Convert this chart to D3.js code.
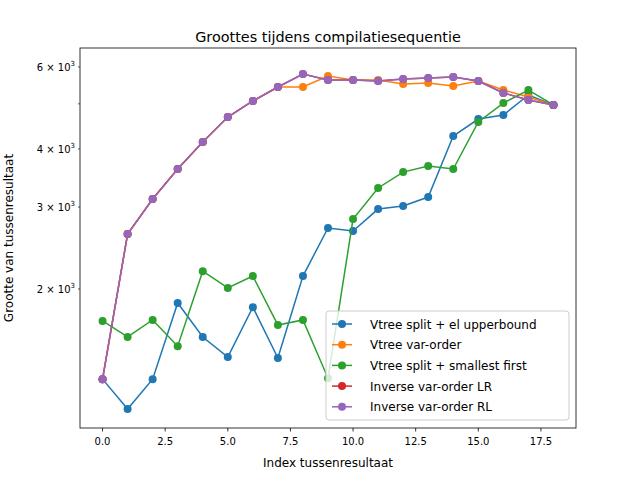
<!DOCTYPE html>
<html><head><meta charset="utf-8">
<script src="https://cdn.jsdelivr.net/npm/d3@7"></script>
<style>body{margin:0;background:#fff}text{font-family:"DejaVu Sans",sans-serif}</style>
</head><body>
<script>
var idx = d3.range(19);
var blue = [1280,1104,1280,1866,1577,1428,1828,1421,2132,2705,2664,2970,3015,3152,4264,4638,4731,5223,4972];
var orange = [1280,2625,3122,3622,4140,4684,5072,5434,5434,5738,5626,5626,5515,5543,5460,5598,5354,5171,4972];
var green = [1707,1577,1716,1507,2184,2010,2132,1673,1716,1286,2828,3297,3567,3676,3622,4570,5020,5354,4972];
var purple = [1280,2625,3122,3622,4140,4684,5072,5434,5795,5626,5626,5598,5654,5682,5710,5598,5276,5097,4972];
var red = purple.slice();
var names = ["Vtree split + el upperbound","Vtree var-order","Vtree split + smallest first","Inverse var-order LR","Inverse var-order RL"];
var colors = ["#1f77b4","#ff7f0e","#2ca02c","#d62728","#9467bd"];
var series = [blue, orange, green, red, purple];
var xTicks = [0,2.5,5,7.5,10,12.5,15,17.5];
var yMajor = [2000,3000,4000,6000];
var yMinor = [5000];

var L=80,R=576,T=48,B=428;
var svg = d3.select("body").append("svg").attr("width",640).attr("height",480);
var x = d3.scaleLinear().domain([-0.9,18.9]).range([L,R]);
var y = d3.scaleLog().domain([1005,6592]).range([B,T]);

svg.append("text").attr("x",(L+R)/2).attr("y",42).attr("text-anchor","middle")
	.attr("font-size",14.4).text("Groottes tijdens compilatiesequentie");

var line = d3.line().x(function(d,i){return x(idx[i]);}).y(function(d){return y(d);});
series.forEach(function(s,k){
	svg.append("path").attr("d",line(s)).attr("fill","none").attr("stroke",colors[k]).attr("stroke-width",1.5);
	svg.selectAll(null).data(s).enter().append("circle")
		.attr("cx",function(d,i){return x(idx[i]);}).attr("cy",function(d){return y(d);})
		.attr("r",4).attr("fill",colors[k]);
});

svg.append("rect").attr("x",L).attr("y",T).attr("width",R-L).attr("height",B-T)
	.attr("fill","none").attr("stroke","#000").attr("stroke-width",0.8);

xTicks.forEach(function(t){
	svg.append("line").attr("x1",x(t)).attr("x2",x(t)).attr("y1",B).attr("y2",B+3.5).attr("stroke","#000").attr("stroke-width",0.8);
	svg.append("text").attr("x",x(t)).attr("y",B+17).attr("text-anchor","middle").attr("font-size",10).text(t.toFixed(1));
});
yMajor.forEach(function(t){
	svg.append("line").attr("x1",L-2).attr("x2",L).attr("y1",y(t)).attr("y2",y(t)).attr("stroke","#000").attr("stroke-width",0.6);
	var tx = svg.append("text").attr("x",L-5).attr("y",y(t)+4).attr("text-anchor","end").attr("font-size",10);
	tx.append("tspan").text((t/1000)+" \u00d7 10");
	tx.append("tspan").attr("dy",-5).attr("font-size",7).text("3");
});
yMinor.forEach(function(t){
	svg.append("line").attr("x1",L-2).attr("x2",L).attr("y1",y(t)).attr("y2",y(t)).attr("stroke","#000").attr("stroke-width",0.6);
});

svg.append("text").attr("x",(L+R)/2).attr("y",467).attr("text-anchor","middle").attr("font-size",12).text("Index tussenresultaat");
svg.append("text").attr("transform","translate(13,"+((T+B)/2)+") rotate(-90)").attr("text-anchor","middle")
	.attr("font-size",12).text("Grootte van tussenresultaat");

var lg = svg.append("g").attr("transform","translate(326,311)");
lg.append("rect").attr("width",243).attr("height",109).attr("rx",3).attr("fill","#fff").attr("fill-opacity",0.8)
	.attr("stroke","#ccc");
names.forEach(function(n,k){
	var yy = 13+k*20.7;
	lg.append("line").attr("x1",6).attr("x2",26).attr("y1",yy).attr("y2",yy).attr("stroke",colors[k]).attr("stroke-width",1.5);
	lg.append("circle").attr("cx",16).attr("cy",yy).attr("r",4).attr("fill",colors[k]);
	lg.append("text").attr("x",44).attr("y",yy+4.5).attr("font-size",12).text(n);
});
</script>
</body></html>
